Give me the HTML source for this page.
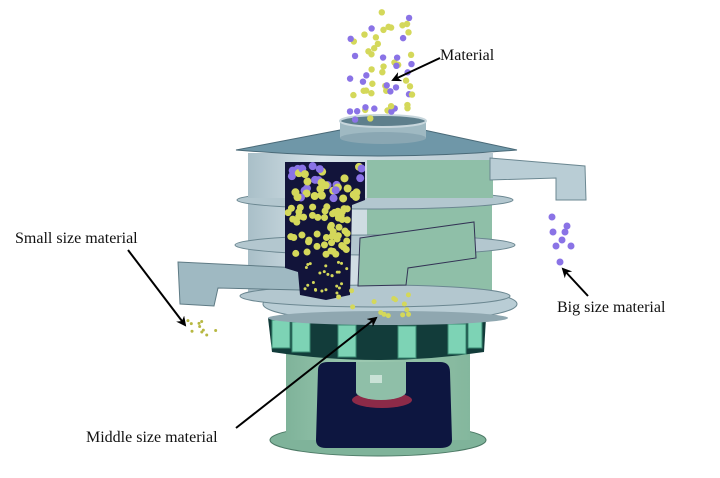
<!DOCTYPE html>
<html><head><meta charset="utf-8"><style>
html,body{margin:0;padding:0;background:#fff;width:720px;height:478px;overflow:hidden}
text{font-family:"Liberation Serif",serif;font-size:16px;fill:#111}
</style></head><body>
<svg id="s" width="720" height="478" viewBox="0 0 720 478" xmlns="http://www.w3.org/2000/svg">
<defs>
<linearGradient id="cyl" x1="0" x2="1"><stop offset="0" stop-color="#a9bfc8"/><stop offset=".3" stop-color="#d6e2e8"/><stop offset="1" stop-color="#b7c9d1"/></linearGradient>
<linearGradient id="base" x1="0" x2="1"><stop offset="0" stop-color="#7fb39a"/><stop offset=".4" stop-color="#9cc9b1"/><stop offset="1" stop-color="#84b79d"/></linearGradient>
<marker id="ar" markerWidth="10" markerHeight="10" refX="8" refY="5" orient="auto" markerUnits="userSpaceOnUse"><path d="M0,0 L10,5 L0,10 L3,5z" fill="#000"/></marker>
<clipPath id="cut"><path d="M285,162 L365,162 L365,200 L352,205 L350,295 L326,300 L300,295 L298,272 L285,268z"/></clipPath>
</defs>
<ellipse cx="378" cy="440" rx="108" ry="16" fill="#7fb39a" stroke="#4d7a66"/>
<rect x="286" y="350" width="184" height="90" fill="url(#base)"/>
<path d="M318,370 Q318,362 328,362 L440,362 Q450,362 450,372 L452,440 Q452,448 440,448 L326,448 Q316,448 316,440z" fill="#0d1640"/>
<ellipse cx="382" cy="400" rx="30" ry="8" fill="#8c2a48"/>
<rect x="356" y="362" width="50" height="30" fill="#8fbfa8"/>
<ellipse cx="381" cy="392" rx="25" ry="8" fill="#8fbfa8"/>
<rect x="370" y="375" width="12" height="8" fill="#c9e2d6"/>
<path d="M268,318 L486,318 L484,352 Q378,368 272,352z" fill="#123c3a"/>
<g fill="#7dd3b5" stroke="#3a8a72">
<rect x="272" y="320" width="18" height="28"/><rect x="292" y="322" width="18" height="30"/><rect x="338" y="325" width="18" height="32"/><rect x="398" y="326" width="18" height="32"/><rect x="448" y="324" width="18" height="30"/><rect x="468" y="320" width="14" height="28"/>
</g>
<ellipse cx="390" cy="304" rx="127" ry="18" fill="#b9cdd5" stroke="#6b8791"/>
<ellipse cx="388" cy="318" rx="120" ry="7" fill="#8fa7b0"/>
<rect x="248" y="200" width="242" height="100" fill="url(#cyl)"/>
<rect x="367" y="200" width="125" height="100" fill="#8fbfa8"/>
<ellipse cx="375" cy="245" rx="140" ry="10" fill="#b3c7cf" stroke="#6b8791"/>
<ellipse cx="375" cy="296" rx="135" ry="11" fill="#b3c7cf" stroke="#6b8791"/>
<ellipse cx="375" cy="200" rx="138" ry="9" fill="#b3c7cf" stroke="#6b8791"/>
<rect x="248" y="153" width="245" height="45" fill="url(#cyl)"/>
<rect x="367" y="160" width="126" height="38" fill="#8fbfa8"/>
<path d="M490,158 L585,166 L586,200 L556,200 L556,178 L490,180z" fill="#b9cdd5" stroke="#6b8791"/>
<path d="M178,262 L300,268 L300,290 L218,288 L214,306 L180,304z" fill="#9fb9c2" stroke="#5f7b85"/>
<path d="M360,238 L474,222 L476,258 L408,268 L406,285 L358,286z" fill="#8fbfa8" stroke="#335"/>
<path d="M285,162 L365,162 L365,200 L352,205 L350,295 L326,300 L300,295 L298,272 L285,268z" fill="#12143a"/>
<path d="M236,150 L340,130 L424,130 L517,150 Q380,162 236,150z" fill="#6f97a8" stroke="#4a6a78"/>
<rect x="340" y="120" width="86" height="18" fill="#9fb9c2"/>
<ellipse cx="383" cy="138" rx="43" ry="6" fill="#8aa7b3"/>
<ellipse cx="383" cy="121" rx="43" ry="6" fill="#5e7f8c" stroke="#c7d6dc" stroke-width="2"/>
<g id="dots"></g>
<g id="cdots" clip-path="url(#cut)"></g>
<text x="440" y="60">Material</text>
<text x="15" y="243">Small size material</text>
<text x="557" y="312">Big size material</text>
<text x="86" y="442">Middle size material</text>
<g stroke="#000" stroke-width="2" marker-end="url(#ar)">
<line x1="440" y1="58" x2="393" y2="80"/>
<line x1="128" y1="250" x2="185" y2="325"/>
<line x1="588" y1="296" x2="563" y2="269"/>
<line x1="236" y1="428" x2="376" y2="318"/>
</g>
</svg>
<script>
var g=document.getElementById('dots'),cg=document.getElementById('cdots'),seed=7;function r(){seed=(seed*16807)%2147483647;return seed/2147483647;}
function d(x,y,rad,c,p){var e=document.createElementNS('http://www.w3.org/2000/svg','circle');e.setAttribute('cx',x);e.setAttribute('cy',y);e.setAttribute('r',rad);e.setAttribute('fill',c);(p||g).appendChild(e);}
for(var i=0;i<60;i++)d(350+r()*65,12+r()*108,3.2,r()<.4?'#8a73e6':'#d4d85a');
for(i=0;i<40;i++)d(290+r()*72,166+r()*34,4,r()<.55?'#8a73e6':'#d4d85a',cg);
for(i=0;i<55;i++)d(288+r()*62,206+r()*50,3.5,'#d4d85a',cg);
for(i=0;i<25;i++)d(305+r()*42,262+r()*32,1.5,'#d4d85a',cg);
for(i=0;i<14;i++)d(335+r()*85,290+r()*30,2.5,'#d4d85a');
for(i=0;i<10;i++)d(180+r()*38,318+r()*22,1.5,'#b7b842');
var bp=[[552,217],[567,226],[565,232],[553,232],[562,240],[556,246],[571,246],[560,262]];bp.forEach(function(p){d(p[0],p[1],3.5,'#8a73e6');});
</script>
</body></html>
